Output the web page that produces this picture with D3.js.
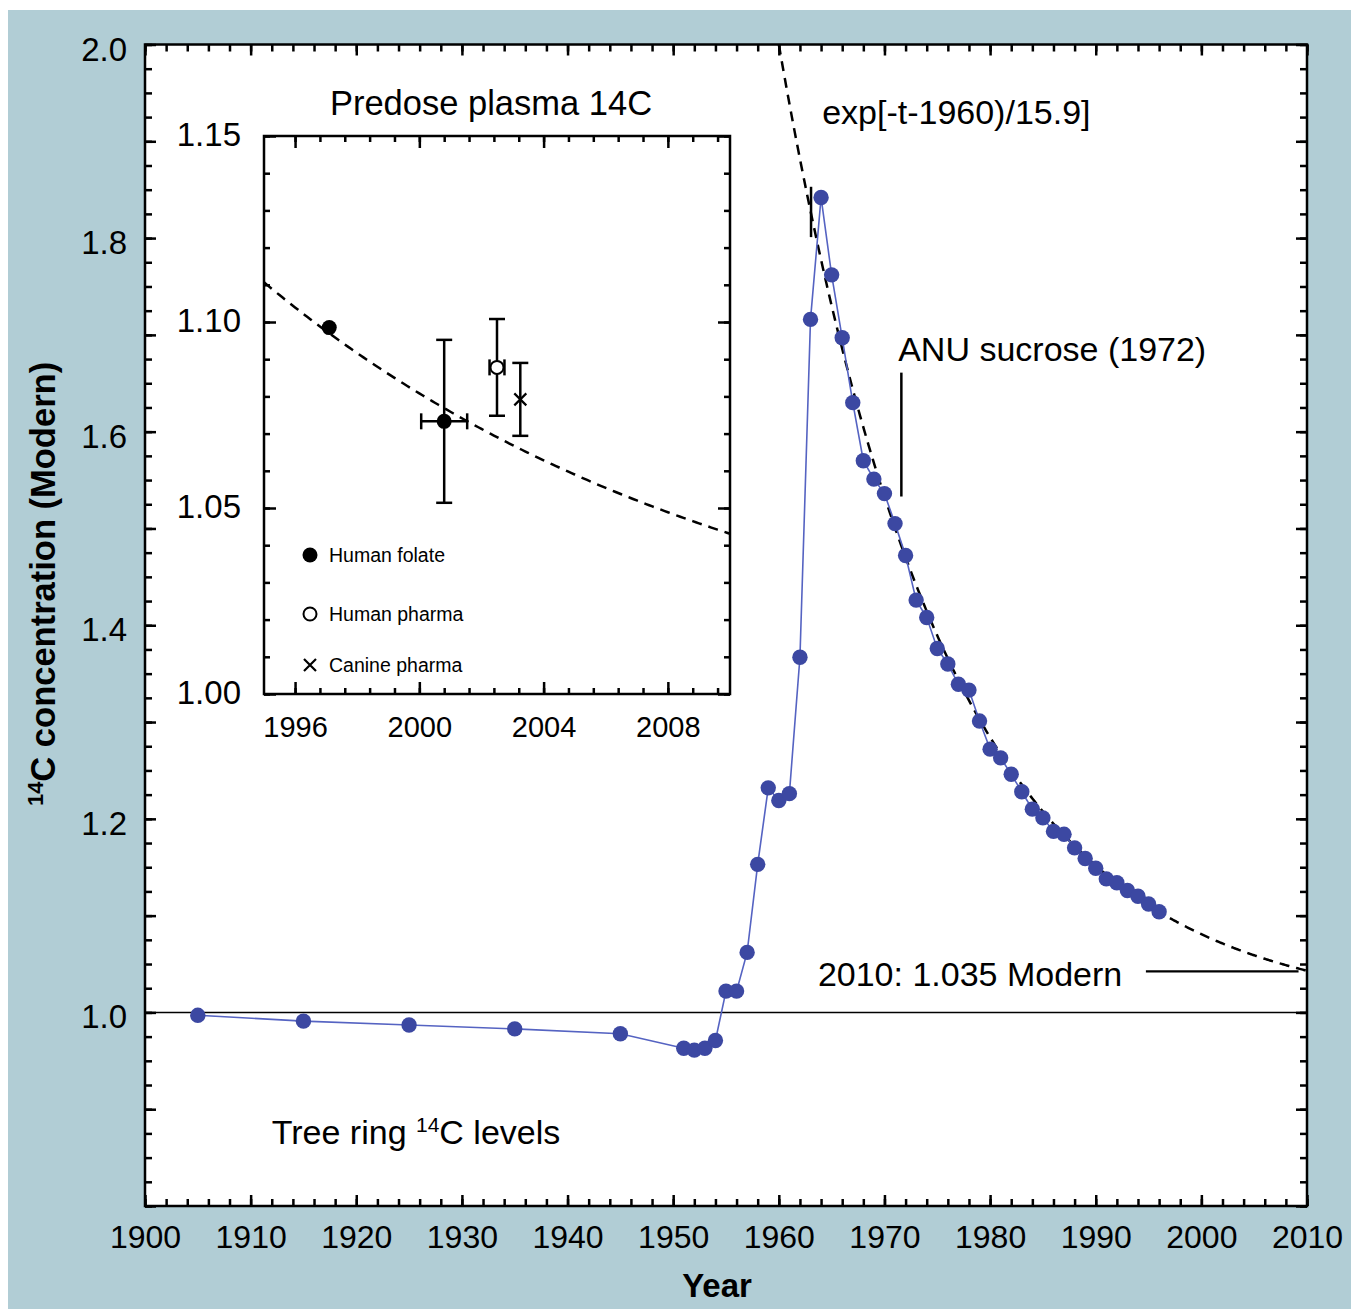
<!DOCTYPE html>
<html>
<head>
<meta charset="utf-8">
<script src="https://cdn.jsdelivr.net/npm/d3@7"></script>
<style>
  body { margin: 0; background: #fff; }
  text { font-family: "Liberation Sans", Arial, Helvetica, sans-serif; fill: #000; }
</style>
</head>
<body>
<div id="chart"></div>
<script>
// tree ring / atmospheric 14C record
const years = [1905, 1915, 1925, 1935, 1945, 1951, 1952, 1953, 1954, 1955, 1956, 1957, 1958, 1959,
  1960, 1961, 1962, 1963, 1964, 1965, 1966, 1967, 1968, 1969, 1970, 1971, 1972, 1973, 1974,
  1975, 1976, 1977, 1978, 1979, 1980, 1981, 1982, 1983, 1984, 1985, 1986, 1987, 1988, 1989,
  1990, 1991, 1992, 1993, 1994, 1995, 1996];
const levels = [0.997, 0.991, 0.987, 0.983, 0.978, 0.963, 0.961, 0.963, 0.971, 1.022, 1.022, 1.062, 1.153, 1.232,
  1.219, 1.226, 1.367, 1.716, 1.842, 1.762, 1.697, 1.630, 1.570, 1.551, 1.536, 1.505, 1.472, 1.426, 1.408,
  1.376, 1.360, 1.339, 1.333, 1.301, 1.272, 1.263, 1.246, 1.228, 1.210, 1.201, 1.187, 1.184, 1.170, 1.159,
  1.149, 1.138, 1.134, 1.126, 1.120, 1.112, 1.104];

// decay model from the label: 1 + exp[-(t-1960)/15.9]
const decayT0 = 1960, decayTau = 15.9;

// inset: predose plasma samples
const sampleNames = ['Human folate', 'Human folate', 'Human pharma', 'Canine pharma'];
const sampleKinds = ['filled', 'filled', 'open', 'cross'];
const sampleYears = [1997.1, 2000.8, 2002.5, 2003.25];
const sampleValues = [1.0985, 1.0733, 1.0878, 1.0792];
const sampleYErr = [0, 0.0219, 0.013, 0.0098];
const sampleXErr = [0, 0.74, 0.24, 0];

const legendNames = ['Human folate', 'Human pharma', 'Canine pharma'];
const legendKinds = ['filled', 'open', 'cross'];

// ticks
const xMajor = d3.range(1900, 2011, 10), xMinor = d3.range(1900, 2011, 2);
const yMajor = d3.range(8, 21).map(d => d / 10), yMinor = d3.range(32, 81).map(d => d / 40);
const yLabels = [1.0, 1.2, 1.4, 1.6, 1.8, 2.0];
const ixMajor = [1996, 2000, 2004, 2008], ixMinor = d3.range(0, 18).map(i => 1996 + i * 0.8);
const iyMajor = [1.00, 1.05, 1.10, 1.15], iyMinor = d3.range(100, 116).map(d => d / 100);

const svgWidth = 1351, svgHeight = 1309;
const blue = '#3c48a2', lineBlue = '#5563c2';

const svg = d3.select('#chart')
  .append('svg')
  .attr('width', svgWidth)
  .attr('height', svgHeight);

svg.append('rect')
  .attr('x', 8).attr('y', 10)
  .attr('width', svgWidth - 8).attr('height', svgHeight - 10)
  .attr('fill', '#b1cdd5');

const x = d3.scaleLinear().domain([1900, 2010]).range([145, 1307]);
const y = d3.scaleLinear().domain([0.8, 2.0]).range([1206, 44.5]);
const ix = d3.scaleLinear().domain([1995, 2010]).range([264, 730]);
const iy = d3.scaleLinear().domain([1.0, 1.15]).range([694, 136]);

svg.append('rect')
  .attr('x', x(1900)).attr('y', y(2.0))
  .attr('width', x(2010) - x(1900)).attr('height', y(0.8) - y(2.0))
  .attr('fill', '#fff');

// inward ticks on all four sides
function frameTicks(xs, ys, xMaj, xMin, yMaj, yMin, majLen, minLen) {
  const [x0, x1] = xs.range(), [y0, y1] = ys.range();
  const sets = [
    [d3.axisBottom(xs), `translate(0,${y0})`, xMaj, xMin],
    [d3.axisTop(xs), `translate(0,${y1})`, xMaj, xMin],
    [d3.axisLeft(ys), `translate(${x0},0)`, yMaj, yMin],
    [d3.axisRight(ys), `translate(${x1},0)`, yMaj, yMin]
  ];
  sets.forEach(([axis, tr, maj, min]) => {
    [[min, minLen], [maj, majLen]].forEach(([vals, len]) => {
      const g = svg.append('g')
        .attr('transform', tr)
        .call(axis.tickValues(vals).tickSize(-len).tickFormat(''));
      g.select('.domain').remove();
      g.selectAll('line').attr('stroke', '#000').attr('stroke-width', 2.5);
    });
  });
  svg.append('rect')
    .attr('x', x0).attr('y', y1)
    .attr('width', x1 - x0).attr('height', y0 - y1)
    .attr('fill', 'none').attr('stroke', '#000').attr('stroke-width', 2.5);
}

// main frame
frameTicks(x, y, xMajor, xMinor, yMajor, yMinor, 11, 7);

const xLab = svg.append('g')
  .attr('transform', `translate(0,${y(0.8)})`)
  .call(d3.axisBottom(x).tickValues(xMajor).tickSize(0).tickPadding(19).tickFormat(d3.format('d')));
xLab.select('.domain').remove();
xLab.selectAll('text').style('font-size', '32px').style('font-family', null);

const yLab = svg.append('g')
  .attr('transform', `translate(${x(1900)},0)`)
  .call(d3.axisLeft(y).tickValues(yLabels).tickSize(0).tickPadding(18).tickFormat(d3.format('.1f')));
yLab.select('.domain').remove();
yLab.selectAll('text').style('font-size', '33px').style('font-family', null).attr('dy', '0.47em');

// 1.0 Modern reference line
svg.append('line')
  .attr('x1', x(1900)).attr('x2', x(2010))
  .attr('y1', y(1.0)).attr('y2', y(1.0))
  .attr('stroke', '#000').attr('stroke-width', 1.5);

// decay curve
const curve = (a, b) => d3.range(a, b + 0.001, 0.1).map(t => [t, 1 + Math.exp(-(t - decayT0) / decayTau)]);

svg.append('path')
  .datum(curve(1960, 2010))
  .attr('fill', 'none')
  .attr('stroke', '#000')
  .attr('stroke-width', 2.5)
  .attr('stroke-dasharray', '10,7')
  .attr('d', d3.line().x(d => x(d[0])).y(d => y(d[1])));

// record
const record = years.map((t, i) => ({ t, v: levels[i] }));

svg.append('path')
  .datum(record)
  .attr('fill', 'none')
  .attr('stroke', lineBlue)
  .attr('stroke-width', 1.6)
  .attr('d', d3.line().x(d => x(d.t)).y(d => y(d.v)));

svg.selectAll('.dot')
  .data(record)
  .enter()
  .append('circle')
  .attr('class', 'dot')
  .attr('cx', d => x(d.t))
  .attr('cy', d => y(d.v))
  .attr('r', 7.7)
  .attr('fill', blue);

// annotations
const mark = (t, v1, v2) => svg.append('line')
  .attr('x1', x(t)).attr('x2', x(t))
  .attr('y1', y(v1)).attr('y2', y(v2))
  .attr('stroke', '#000').attr('stroke-width', 2.5);

mark(1963.05, 1.853, 1.801);
mark(1971.6, 1.661, 1.533);

svg.append('line')
  .attr('x1', x(1994.75)).attr('x2', x(2009.2))
  .attr('y1', y(1.0425)).attr('y2', y(1.0425))
  .attr('stroke', '#000').attr('stroke-width', 2.2);

const note = (tx, v, str) => svg.append('text')
  .attr('x', x(tx)).attr('y', y(v))
  .style('font-size', '34px')
  .text(str);

note(1964.1, 1.918, 'exp[-t-1960)/15.9]');
note(1971.3, 1.673, 'ANU sucrose (1972)');
note(1963.7, 1.027, '2010: 1.035 Modern');

const tree = svg.append('text')
  .attr('x', x(1912.0)).attr('y', y(0.864))
  .style('font-size', '34px');
tree.append('tspan').text('Tree ring ');
tree.append('tspan').attr('dy', -12).style('font-size', '21px').text('14');
tree.append('tspan').attr('dy', 12).text('C levels');

// axis titles
svg.append('text')
  .attr('x', 717).attr('y', 1297)
  .attr('text-anchor', 'middle')
  .style('font-size', '33px').style('font-weight', 'bold')
  .text('Year');

const yTitle = svg.append('text')
  .attr('transform', 'translate(55,584) rotate(-90)')
  .attr('text-anchor', 'middle')
  .style('font-size', '34.5px').style('font-weight', 'bold');
yTitle.append('tspan').attr('dy', -12).style('font-size', '22px').text('14');
yTitle.append('tspan').attr('dy', 12).text('C concentration (Modern)');

// inset
frameTicks(ix, iy, ixMajor, ixMinor, iyMajor, iyMinor, 12, 6);

const ixLab = svg.append('g')
  .attr('transform', `translate(0,${iy(1.0)})`)
  .call(d3.axisBottom(ix).tickValues(ixMajor).tickSize(0).tickPadding(22).tickFormat(d3.format('d')));
ixLab.select('.domain').remove();
ixLab.selectAll('text').style('font-size', '29px').style('font-family', null);

const iyLab = svg.append('g')
  .attr('transform', `translate(${ix(1995)},0)`)
  .call(d3.axisLeft(iy).tickValues(iyMajor).tickSize(0).tickPadding(23).tickFormat(d3.format('.2f')));
iyLab.select('.domain').remove();
iyLab.selectAll('text').style('font-size', '33px').style('font-family', null).attr('dy', '0.3em');

svg.append('text')
  .attr('x', 491).attr('y', 115)
  .attr('text-anchor', 'middle')
  .style('font-size', '34.5px')
  .text('Predose plasma 14C');

svg.append('path')
  .datum(curve(1995, 2010))
  .attr('fill', 'none')
  .attr('stroke', '#000')
  .attr('stroke-width', 2.5)
  .attr('stroke-dasharray', '10,7')
  .attr('d', d3.line().x(d => ix(d[0])).y(d => iy(d[1])));

const samples = sampleYears.map((t, i) => ({
  t, v: sampleValues[i], ey: sampleYErr[i], ex: sampleXErr[i], kind: sampleKinds[i], name: sampleNames[i]
}));

const errG = svg.append('g').attr('stroke', '#000').attr('stroke-width', 2.5);
samples.filter(d => d.ey > 0).forEach(d => {
  errG.append('line').attr('x1', ix(d.t)).attr('x2', ix(d.t)).attr('y1', iy(d.v - d.ey)).attr('y2', iy(d.v + d.ey));
  [d.v - d.ey, d.v + d.ey].forEach(v => errG.append('line')
    .attr('x1', ix(d.t) - 8).attr('x2', ix(d.t) + 8).attr('y1', iy(v)).attr('y2', iy(v)));
});
samples.filter(d => d.ex > 0).forEach(d => {
  errG.append('line').attr('x1', ix(d.t - d.ex)).attr('x2', ix(d.t + d.ex)).attr('y1', iy(d.v)).attr('y2', iy(d.v));
  [d.t - d.ex, d.t + d.ex].forEach(t => errG.append('line')
    .attr('x1', ix(t)).attr('x2', ix(t)).attr('y1', iy(d.v) - 8).attr('y2', iy(d.v) + 8));
});

function marker(g, kind, cx, cy, size) {
  if (kind === 'filled') {
    g.append('circle').attr('cx', cx).attr('cy', cy).attr('r', size).attr('fill', '#000');
  } else if (kind === 'open') {
    g.append('circle').attr('cx', cx).attr('cy', cy).attr('r', size - 1)
      .attr('fill', '#fff').attr('stroke', '#000').attr('stroke-width', 2);
  } else {
    const s = size - 1.5;
    g.append('path')
      .attr('d', `M${cx - s},${cy - s}L${cx + s},${cy + s}M${cx - s},${cy + s}L${cx + s},${cy - s}`)
      .attr('stroke', '#000').attr('stroke-width', 2.2);
  }
}

const markG = svg.append('g');
samples.forEach(d => marker(markG, d.kind, ix(d.t), iy(d.v), 7.5));

// legend
const legendY = [555, 614, 665];
legendNames.forEach((name, i) => {
  marker(markG, legendKinds[i], 310, legendY[i], 7.5);
  svg.append('text')
    .attr('x', 329).attr('y', legendY[i] + 7)
    .style('font-size', '19.5px')
    .text(name);
});
</script>
</body>
</html>
